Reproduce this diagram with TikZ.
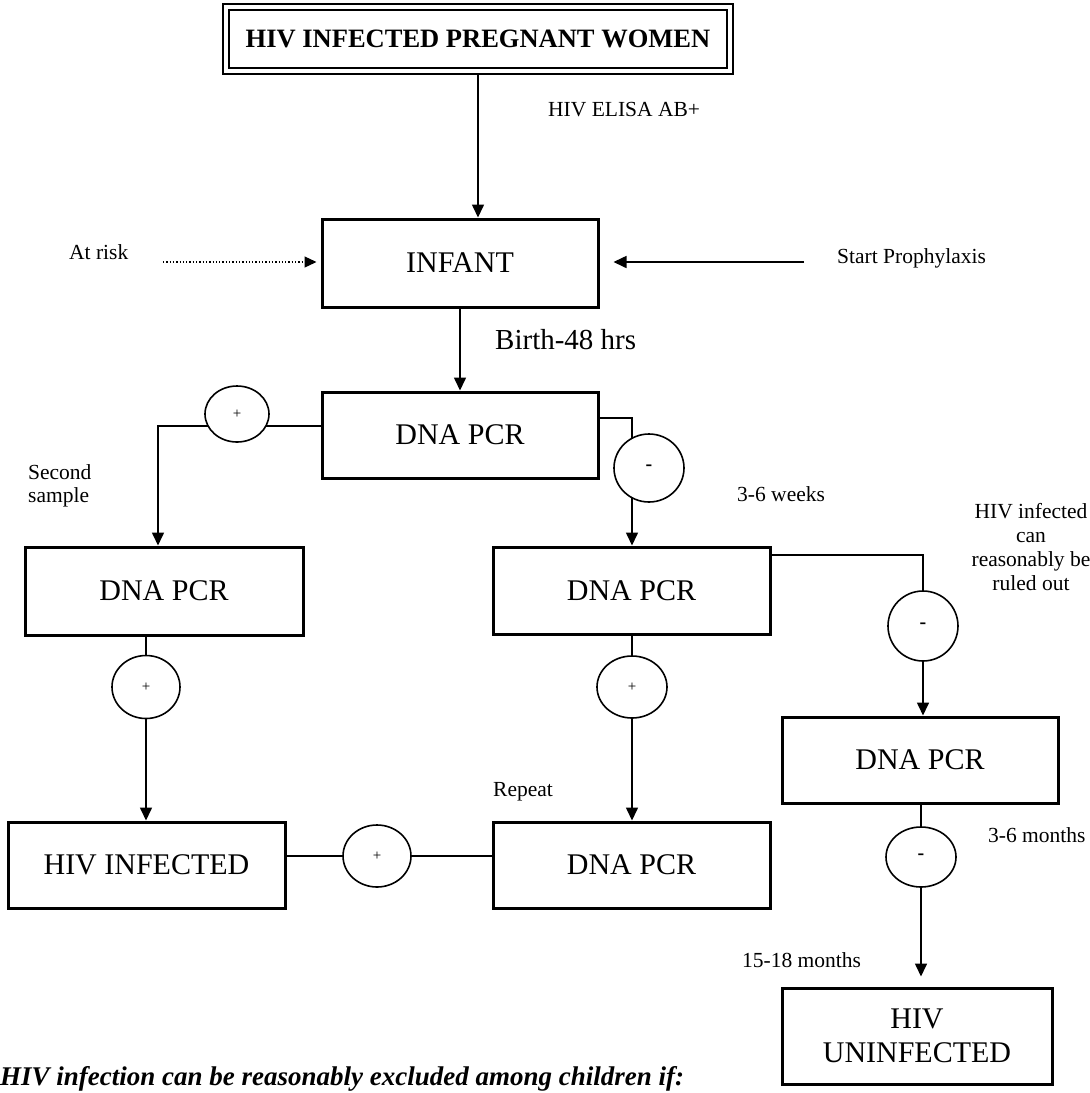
\documentclass[tikz,border=0pt]{standalone}
\usepackage{fontspec}
\setmainfont{Liberation Serif}
\usetikzlibrary{arrows.meta,shapes.geometric,backgrounds}
\begin{document}
\begin{tikzpicture}[x=1pt,y=-1pt,
  box/.style={draw,line width=3pt,inner sep=0pt,align=center,font=\fontsize{30}{34}\selectfont},
  sign/.style={draw,ellipse,fill=white,line width=1.6pt,inner sep=0pt},
  plus/.style={sign,font=\fontsize{15}{15}\selectfont},
  minus/.style={sign,font=\bfseries\fontsize{20}{20}\selectfont},
  conn/.style={line width=1.6pt},
  arr/.style={conn,-{Triangle[length=13pt,width=12pt]}},
  dotarr/.style={line width=1.3pt,dotted,-{Triangle[length=12pt,width=11pt]},shorten >=4pt},
  lbl/.style={inner sep=0pt,font=\fontsize{21.5}{24}\selectfont},
]
\useasboundingbox (0,0) rectangle (1090,1093);
% boxes
\node[draw,double,double distance=4pt,line width=2pt,minimum width=504pt,minimum height=64pt,inner sep=0pt,font=\bfseries\fontsize{26.5}{30}\selectfont] (title) at (478,39) {HIV INFECTED PREGNANT WOMEN};
\node[box,minimum width=276pt,minimum height=88pt] (infant) at (460,263) {INFANT};
\node[box,minimum width=276pt,minimum height=86pt] (dna1) at (460,435) {DNA PCR};
\node[box,minimum width=278pt,minimum height=88pt] (dnaL) at (164,591) {DNA PCR};
\node[box,minimum width=277pt,minimum height=87pt] (dnaM) at (631.5,590.5) {DNA PCR};
\node[box,minimum width=277pt,minimum height=86pt] (hivinf) at (146.5,865) {HIV INFECTED};
\node[box,minimum width=277pt,minimum height=86pt] (dnaB) at (631.5,865) {DNA PCR};
\node[box,minimum width=276pt,minimum height=86pt] (dnaR) at (920,760) {DNA PCR};
\node[box,minimum width=270pt,minimum height=96pt] (uninf) at (917,1036) {HIV\\UNINFECTED};
% result circles
\node[plus,minimum width=64pt,minimum height=56pt] (pL1) at (237,414) {+};
\node[minus,minimum width=70pt,minimum height=68pt] (mT) at (649,468) {-};
\node[plus,minimum width=68pt,minimum height=63pt] (pL2) at (146,687) {+};
\node[plus,minimum width=70pt,minimum height=62pt] (pM) at (632,687) {+};
\node[plus,minimum width=68pt,minimum height=62pt] (pB) at (377,856) {+};
\node[minus,minimum width=70pt,minimum height=70pt] (mR) at (923,626) {-};
\node[minus,minimum width=70pt,minimum height=60pt] (mR2) at (921,857) {-};
% helper coordinates
\coordinate (cL) at (158,426);
\coordinate (cT) at (632,418);
\coordinate (cR) at (923,555);
\coordinate (ta) at (478,0);
\coordinate (arL) at (163,262);
\coordinate (spR) at (804,262);
% connectors
\begin{pgfonlayer}{background}
\draw[arr] (title.south -| ta) -- (infant.north -| ta);
\draw[dotarr] (arL) -- (arL -| infant.west);
\draw[arr,shorten >=14pt] (spR) -- (spR -| infant.east);
\draw[arr] (infant.south) -- (dna1.north);
\draw[arr] (dna1.west |- cL) -- (cL) -- (cL |- dnaL.north);
\draw[arr] (dna1.east |- cT) -- (cT) -- (cT |- dnaM.north);
\draw[arr] (dnaL.south -| pL2) -- (pL2 |- hivinf.north);
\draw[arr] (dnaM.south -| pM) -- (pM |- dnaB.north);
\draw[conn] (hivinf.east |- pB) -- (dnaB.west |- pB);
\draw[arr] (dnaM.east |- cR) -- (cR) -- (cR |- dnaR.north);
\draw[arr,shorten >=10pt] (dnaR.south -| mR2) -- (mR2 |- uninf.north);
\end{pgfonlayer}
% labels
\node[lbl,anchor=west] (elisa) at (548,110) {HIV ELISA AB+};
\node[lbl,anchor=west] (risk) at (69,252) {At risk};
\node[lbl,anchor=west] (proph) at (837,258) {Start Prophylaxis};
\node[inner sep=0pt,anchor=west,font=\fontsize{29}{32}\selectfont] (birth) at (495,340) {Birth-48 hrs};
\node[lbl,anchor=west,align=left,font=\fontsize{21.5}{23}\selectfont] (second) at (28,486) {Second\\sample};
\node[lbl,anchor=west] (weeks) at (737,494) {3-6 weeks};
\node[lbl,align=center] (ruled) at (1031,547) {HIV infected\\can\\reasonably be\\ruled out};
\node[lbl,anchor=west] (repeat) at (493,792) {Repeat};
\node[lbl,anchor=west] (months) at (988,835) {3-6 months};
\node[lbl,anchor=west] (months2) at (742,960) {15-18 months};
\node[inner sep=0pt,anchor=base west,font=\bfseries\itshape\fontsize{27}{30}\selectfont] (note) at (0,1085) {HIV infection can be reasonably excluded among children if:};
\end{tikzpicture}
\end{document}
